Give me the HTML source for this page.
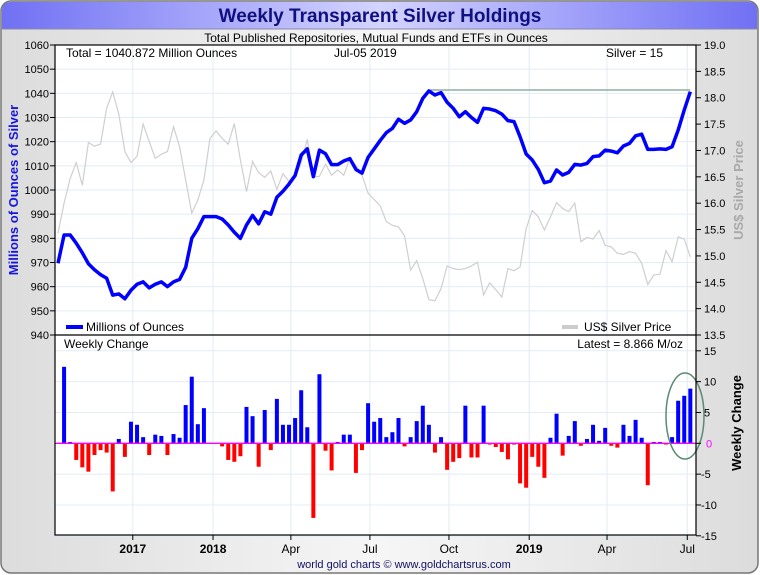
<!DOCTYPE html>
<html><head><meta charset="utf-8"><style>
html,body{margin:0;padding:0;width:760px;height:575px;overflow:hidden;background:#fff;}
svg{display:block;font-family:"Liberation Sans",Arial,sans-serif;}
</style></head><body>
<svg id="chart" width="760" height="575" viewBox="0 0 760 575">
<defs>
<linearGradient id="bg" x1="0" x2="1" y1="0" y2="0"><stop offset="0" stop-color="#dcdcdc"/><stop offset="0.5" stop-color="#f6f6f6"/><stop offset="1" stop-color="#dcdcdc"/></linearGradient>
<linearGradient id="tb" x1="0" x2="1" y1="0" y2="0"><stop offset="0" stop-color="#7070f4"/><stop offset="0.5" stop-color="#d4d4ff"/><stop offset="1" stop-color="#7070f4"/></linearGradient>
</defs>
<rect x="1" y="1" width="757" height="572" rx="10" fill="url(#bg)" stroke="#777" stroke-width="1.5"/>
<path d="M2,29 L2,11 Q2,2 11,2 L748,2 Q757,2 757,11 L757,29 Z" fill="url(#tb)"/>
<line x1="2" y1="29" x2="757" y2="29" stroke="#8888aa" stroke-width="1"/>
<text x="380" y="22" text-anchor="middle" font-size="19" font-weight="bold" fill="#101080">Weekly Transparent Silver Holdings</text>
<text x="376" y="42" text-anchor="middle" font-size="12" fill="#000">Total Published Repositories, Mutual Funds and ETFs in Ounces</text>
<rect x="55" y="45" width="641" height="490" fill="#fff"/>
<g id="grid"></g>
<g id="marks"></g>
<line x1="55" y1="335" x2="696" y2="335" stroke="#000" stroke-width="1.2"/>
<rect x="55" y="45" width="641" height="490" fill="none" stroke="#000" stroke-width="1.2"/>
<g id="axes" font-size="11"></g>
<text x="66" y="57" font-size="12">Total = 1040.872 Million Ounces</text>
<text x="334" y="57" font-size="12">Jul-05  2019</text>
<text x="606" y="57" font-size="12">Silver = 15</text>
<g><line x1="66" y1="327" x2="83" y2="327" stroke="#0000ff" stroke-width="4"/><text x="86" y="331" font-size="12">Millions of Ounces</text></g>
<g><line x1="562" y1="327" x2="578" y2="327" stroke="#cccccc" stroke-width="4"/><text x="584" y="331" font-size="12">US$ Silver Price</text></g>
<text x="64" y="348" font-size="12">Weekly Change</text>
<text x="683" y="348" font-size="12" text-anchor="end">Latest = 8.866 M/oz</text>
<text transform="translate(18,190) rotate(-90)" text-anchor="middle" font-size="13" font-weight="bold" fill="#1515e0">Millions of Ounces of Silver</text>
<text transform="translate(743,190) rotate(-90)" text-anchor="middle" font-size="13" font-weight="bold" fill="#a8a8a8">US$ Silver Price</text>
<text transform="translate(741,423) rotate(-90)" text-anchor="middle" font-size="13" font-weight="bold" fill="#000">Weekly Change</text>
<text x="404" y="568" text-anchor="middle" font-size="11" fill="#101060">world gold charts © www.goldchartsrus.com</text>
</svg>
<script>
const holdings=[969.7,981.4,981.4,978,974,969.5,967,965,963.5,956.5,957,955,958.5,961,962,959.5,961,962,960,962,963,968,980,984,989,989,989,988,985.5,982.5,980,985.5,989.5,986,991,990,997,999.5,1002.5,1006,1014.5,1017,1005.5,1016.5,1015,1010.5,1010.5,1012,1013,1008.5,1007,1013.5,1017,1020.5,1023.7,1025.5,1029.3,1027.6,1029,1032.4,1037.9,1041,1039.3,1040.3,1036.3,1033.8,1030.3,1032.4,1030,1028,1033.8,1033.5,1032.8,1031.4,1028.7,1028.3,1022,1014.9,1012.4,1008.5,1003,1003.7,1008.3,1006.2,1007.3,1010.6,1010.3,1011,1013.8,1014.1,1016.5,1016.1,1015.4,1018.2,1019.3,1022.4,1023.1,1016.8,1016.8,1017,1016.8,1017.9,1024.8,1033.1,1040.7];
const silverPrice=[15.43,16.0,16.47,16.77,16.34,17.15,17.08,17.12,17.8,18.11,17.69,16.98,16.77,16.89,17.5,17.17,16.85,16.93,16.98,17.45,17.07,16.44,15.81,16.06,16.44,17.23,17.37,17.23,17.12,17.51,16.82,16.22,16.79,16.58,16.49,16.61,16.26,16.56,16.41,16.5,16.77,17.21,16.5,16.51,16.74,16.53,16.63,16.53,16.85,16.72,16.53,16.19,16.07,15.95,15.65,15.58,15.55,15.38,14.73,14.91,14.57,14.17,14.15,14.38,14.81,14.76,14.74,14.76,14.81,14.88,14.26,14.49,14.36,14.22,14.76,14.72,14.79,15.52,15.86,15.74,15.49,15.74,16.01,15.9,15.84,16.0,15.27,15.35,15.32,15.48,15.2,15.17,15.05,15.03,15.08,15.05,14.86,14.46,14.64,14.65,15.1,14.89,15.36,15.32,14.98];
const weeklyChange=[12.4,0.2,-2.7,-3.9,-4.6,-1.9,-1.1,-1.5,-7.8,0.7,-2.2,3.5,3.0,1.0,-1.9,1.4,1.2,-1.9,1.5,0.9,6.2,10.8,3.1,5.7,0,0,-0.5,-2.7,-3.0,-2.1,5.9,4.4,-3.8,5.4,-1.1,7.2,3.0,3.0,4.1,8.6,2.6,-12.1,11.2,-1.2,-4.4,0.2,1.4,1.4,-4.8,-1.1,6.5,3.5,4.1,1.0,1.8,4.1,-0.5,1.0,3.6,6.1,3.0,-1.5,1.0,-4.3,-3.0,-2.4,6.1,-2.3,-2.3,6.1,-0.2,-0.6,-1.4,-2.6,-0.2,-6.5,-7.2,-2.2,-3.8,-5.6,0.9,4.8,-2.0,1.2,3.6,-0.4,0.7,3.0,0.4,2.5,-0.4,-0.7,3.0,1.2,3.8,0.9,-6.8,0.2,0.2,-0.2,1.0,6.9,7.7,8.866];
const monthLabels=["2017","2018","Apr","Jul","Oct","2019","Apr","Jul"];
const monthWeeks=[12.3,25.5,38.3,51.3,64.3,77.5,90.3,103.5];
const monthBold=[true,true,false,false,false,true,false,false];
const leftTicks=[940,950,960,970,980,990,1000,1010,1020,1030,1040,1050,1060];
const priceTicks=[13.5,14.0,14.5,15.0,15.5,16.0,16.5,17.0,17.5,18.0,18.5,19.0];
const changeTicks=[-15,-10,-5,0,5,10,15];
const peakLevel=1041.4;

const NS="http://www.w3.org/2000/svg";
function mk(tag,attrs,parent){const e=document.createElementNS(NS,tag);for(const k in attrs)e.setAttribute(k,attrs[k]);parent.appendChild(e);return e;}
const xW=i=>58+6.08*i;
const yH=v=>45+(1060-v)*(290/120);
const yP=p=>45+(19-p)*(290/5.5);
const yC=c=>443.3-c*(185/30);
const grid=document.getElementById('grid'),marks=document.getElementById('marks'),axes=document.getElementById('axes');

leftTicks.forEach(v=>{const l=mk('line',{x1:55,x2:696,y1:yH(v),y2:yH(v),stroke:'#e2ecf4','stroke-width':1},grid);

});
changeTicks.forEach(v=>{if(v===0)return;const l=mk('line',{x1:55,x2:696,y1:yC(v),y2:yC(v),stroke:'#e2ecf4','stroke-width':1},grid);

});
monthWeeks.forEach(w=>{const l=mk('line',{x1:xW(w),x2:xW(w),y1:45,y2:535,stroke:'#e2ecf4','stroke-width':1},grid);

});

const sp=mk('polyline',{points:silverPrice.map((p,i)=>xW(i)+','+yP(p)).join(' '),fill:'none',stroke:'#cfcfcf','stroke-width':1.2},marks);


const pk=mk('line',{x1:xW(61),x2:xW(holdings.length-1),y1:yH(peakLevel),y2:yH(peakLevel),stroke:'#5a8a70','stroke-width':1},marks);


const hl=mk('polyline',{points:holdings.map((v,i)=>xW(i)+','+yH(v)).join(' '),fill:'none',stroke:'#0000ff','stroke-width':3.5,'stroke-linejoin':'round'},marks);


weeklyChange.forEach((c,j)=>{const i=j+1;const y0=yC(0),y1=yC(c);
const b=mk('rect',{x:xW(i)-2,width:4,y:Math.min(y0,y1),height:Math.max(Math.abs(y1-y0),0.6),fill:c>=0?'#0000ff':'#ff0000'},marks);

});
const zl=mk('line',{x1:55,x2:696,y1:yC(0),y2:yC(0),stroke:'#ff00ff','stroke-width':1.3},marks);


const el=mk('ellipse',{cx:685,cy:416,rx:19,ry:43,fill:'none',stroke:'#5a8a70','stroke-width':1.5},marks);



leftTicks.forEach(v=>{mk('line',{x1:50,x2:55,y1:yH(v),y2:yH(v),stroke:'#000'},axes);
const t=mk('text',{x:49,y:yH(v)+4,'text-anchor':'end'},axes);t.textContent=v;

});
priceTicks.forEach(p=>{mk('line',{x1:696,x2:701,y1:yP(p),y2:yP(p),stroke:'#000'},axes);
const t=mk('text',{x:704,y:yP(p)+4},axes);t.textContent=p.toFixed(1);

});
changeTicks.forEach(c=>{mk('line',{x1:696,x2:701,y1:yC(c),y2:yC(c),stroke:'#000'},axes);
const t=mk('text',{x:c===0?706:(c<0?701:704),y:yC(c)+4,fill:c===0?'#ff00ff':'#000'},axes);t.textContent=c;

});
monthWeeks.forEach((w,k)=>{mk('line',{x1:xW(w),x2:xW(w),y1:535,y2:540,stroke:'#000'},axes);
const t=mk('text',{x:xW(w),y:553,'text-anchor':'middle','font-size':12,'font-weight':monthBold[k]?'bold':'normal'},axes);t.textContent=monthLabels[k];

});
</script>
</body></html>
